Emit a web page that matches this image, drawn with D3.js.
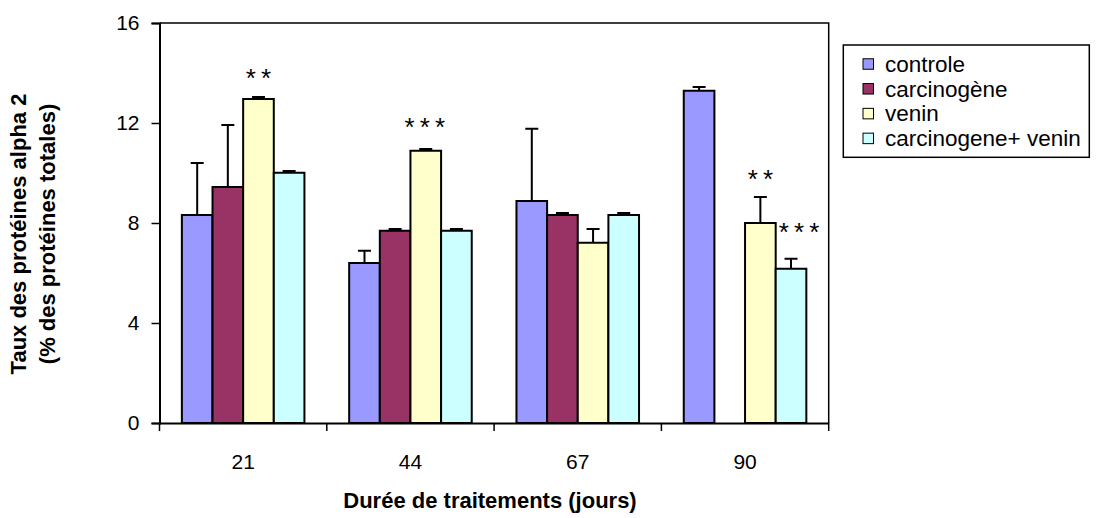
<!DOCTYPE html>
<html>
<head>
<meta charset="utf-8">
<script src="https://cdn.jsdelivr.net/npm/d3@7"></script>
<style>
	body { margin: 0; background: #fff; }
	text { font-family: Arial, "Liberation Sans", sans-serif; }
</style>
</head>
<body>
<svg width="1097" height="518"></svg>
<script>
const categories = ['21', '44', '67', '90'];
const series = ['controle', 'carcinogène', 'venin', 'carcinogene+ venin'];
const colors = ['#9999FF', '#993366', '#FFFFCC', '#CCFFFF'];

// one array per series, in the order of categories
const controle = [8.32, 6.40, 8.88, 13.29];
const carcinogene = [9.44, 7.69, 8.32, null];
const venin = [12.96, 10.89, 7.21, 8.00];
const carcinoVenin = [10.01, 7.69, 8.32, 6.17];

const controleErr = [2.08, 0.49, 2.89, 0.15];
const carcinogeneErr = [2.48, 0.07, 0.08, null];
const veninErr = [0.08, 0.07, 0.55, 1.04];
const carcinoVeninErr = [0.07, 0.07, 0.08, 0.40];

const yTicks = [0, 4, 8, 12, 16];

// significance marks: category, series index, label, value where the mark sits
const marks = [
	{ cat: '21', s: 2, label: '**', at: 14.02, dx: 0 },
	{ cat: '44', s: 2, label: '***', at: 12.07, dx: -1 },
	{ cat: '90', s: 2, label: '**', at: 10.0, dx: 0 },
	{ cat: '90', s: 3, label: '***', at: 7.88, dx: 8 },
];

const values = [controle, carcinogene, venin, carcinoVenin];
const errors = [controleErr, carcinogeneErr, veninErr, carcinoVeninErr];

const plotL = 159.5, plotR = 828.7, plotT = 23, plotB = 423;
const starSize = 26, starGap = 5.2;

const svg = d3.select('svg');

const x0 = d3.scaleBand()
	.domain(categories)
	.range([plotL, plotR]);

const x1 = d3.scaleBand()
	.domain(d3.range(series.length))
	.range([0, x0.bandwidth()])
	.paddingOuter(0.73);

const y = d3.scaleLinear()
	.domain([0, 16])
	.range([plotB, plotT]);

const bars = [];
values.forEach((vals, s) => {
	vals.forEach((v, i) => {
		if (v != null) bars.push({ cat: categories[i], s: s, v: v, e: errors[s][i] });
	});
});

// plot frame (top and right)
svg.append('path')
	.attr('d', `M${plotL},${plotT}H${plotR}V${plotB}`)
	.attr('fill', 'none')
	.attr('stroke', '#000')
	.attr('stroke-width', 1.5);

// error bars (upper only)
const eb = svg.append('g')
	.attr('stroke', '#000')
	.attr('stroke-width', 2);

eb.selectAll('g')
	.data(bars)
	.enter()
	.append('g')
	.each(function (d) {
		const cx = x0(d.cat) + x1(d.s) + x1.bandwidth() / 2;
		const g = d3.select(this);
		g.append('line')
			.attr('x1', cx).attr('x2', cx)
			.attr('y1', y(d.v)).attr('y2', y(d.v + d.e));
		g.append('line')
			.attr('x1', cx - 6.5).attr('x2', cx + 6.5)
			.attr('y1', y(d.v + d.e)).attr('y2', y(d.v + d.e));
	});

svg.append('g')
	.selectAll('rect')
	.data(bars)
	.enter()
	.append('rect')
	.attr('x', d => x0(d.cat) + x1(d.s))
	.attr('y', d => y(d.v))
	.attr('width', x1.bandwidth())
	.attr('height', d => y(0) - y(d.v))
	.attr('fill', d => colors[d.s])
	.attr('stroke', '#000')
	.attr('stroke-width', 2);

// y axis
const yAxis = svg.append('g')
	.attr('transform', `translate(${plotL},0)`)
	.call(d3.axisLeft(y).tickValues(yTicks).tickSize(8).tickPadding(12));
yAxis.select('.domain').attr('stroke-width', 2);
yAxis.selectAll('.tick line').attr('stroke-width', 1.5);
yAxis.selectAll('text').attr('font-size', 21).attr('fill', '#000');

// x axis: labels at band centers, ticks between categories
const xAxis = svg.append('g')
	.attr('transform', `translate(0,${plotB})`)
	.call(d3.axisBottom(x0).tickSize(0).tickPadding(31));
xAxis.select('.domain').attr('stroke-width', 2);
xAxis.selectAll('text').attr('font-size', 21).attr('fill', '#000');

xAxis.selectAll('.sep')
	.data(d3.range(categories.length + 1))
	.enter()
	.append('line')
	.attr('x1', i => plotL + i * x0.step())
	.attr('x2', i => plotL + i * x0.step())
	.attr('y1', 0)
	.attr('y2', 8)
	.attr('stroke', '#000')
	.attr('stroke-width', 1.5);

// significance marks
svg.append('g')
	.selectAll('text')
	.data(marks)
	.enter()
	.append('text')
	.attr('x', d => x0(d.cat) + x1(d.s) + x1.bandwidth() / 2 + d.dx + starGap / 2)
	.attr('y', d => y(d.at) + 0.573 * starSize)
	.attr('text-anchor', 'middle')
	.attr('font-size', starSize)
	.attr('letter-spacing', starGap)
	.text(d => d.label);

// axis titles
svg.append('text')
	.attr('x', 490)
	.attr('y', 508)
	.attr('text-anchor', 'middle')
	.attr('font-size', 22)
	.attr('font-weight', 'bold')
	.text('Durée de traitements (jours)');

const yTitle = svg.append('text')
	.attr('transform', 'translate(0,234) rotate(-90)')
	.attr('text-anchor', 'middle')
	.attr('font-size', 22)
	.attr('font-weight', 'bold');
yTitle.append('tspan').attr('x', 0).attr('y', 26).text('Taux des protéines alpha 2');
yTitle.append('tspan').attr('x', 0).attr('y', 55).text('(% des protéines totales)');

// legend
const legend = svg.append('g');
legend.append('rect')
	.attr('x', 843.3)
	.attr('y', 45)
	.attr('width', 246)
	.attr('height', 112.3)
	.attr('fill', '#fff')
	.attr('stroke', '#000')
	.attr('stroke-width', 1.5);

const items = legend.selectAll('.item')
	.data(series)
	.enter()
	.append('g')
	.attr('class', 'item')
	.attr('transform', (d, i) => `translate(863,${64 + i * 24.8})`);

items.append('rect')
	.attr('x', 0)
	.attr('y', -5.25)
	.attr('width', 10.5)
	.attr('height', 10.5)
	.attr('fill', (d, i) => colors[i])
	.attr('stroke', '#000')
	.attr('stroke-width', 1);

items.append('text')
	.attr('x', 22)
	.attr('dy', '0.35em')
	.attr('font-size', 22.5)
	.text(d => d);
</script>
</body>
</html>
